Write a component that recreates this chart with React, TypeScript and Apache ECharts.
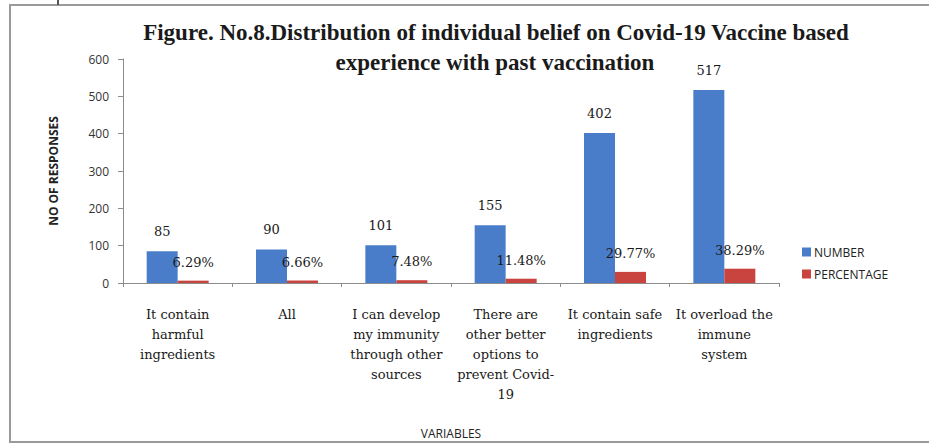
import React, { useEffect, useRef } from "react";
import * as echarts from "echarts";

const categories = [
  "It contain\nharmful\ningredients",
  "All",
  "I can develop\nmy immunity\nthrough other\nsources",
  "There are\nother better\noptions to\nprevent Covid-\n19",
  "It contain safe\ningredients",
  "It overload the\nimmune\nsystem",
];
const numberValues = [85, 90, 101, 155, 402, 517];
const percentageValues = [6.29, 6.66, 7.48, 11.48, 29.77, 38.29];
const yTicks = { min: 0, max: 600, interval: 100 };

const titleLines = [
  "Figure. No.8.Distribution of individual belief on Covid-19 Vaccine based",
  "experience with past vaccination",
];

const SERIF = "'Liberation Serif', 'DejaVu Serif', serif";
const WIDE_SERIF = "'DejaVu Serif', 'Liberation Serif', serif";
const SANS = "'Open Sans', 'Noto Sans', sans-serif";

export default function App() {
  const ref = useRef<HTMLDivElement>(null);

  useEffect(() => {
    if (!ref.current) return;
    const chart = echarts.init(ref.current, null, { renderer: "svg" });
    chart.setOption({
      animation: false,
      backgroundColor: "#ffffff",
      graphic: [
        {
          type: "rect",
          shape: { x: 10, y: 5, width: 1000, height: 437 },
          style: { fill: "none", stroke: "#9a9a9a", lineWidth: 2 },
          silent: true,
        },
        {
          type: "line",
          shape: { x1: 58, y1: 0, x2: 58, y2: 5 },
          style: { stroke: "#555", lineWidth: 2 },
          silent: true,
        },
        {
          type: "text",
          style: {
            text: titleLines[0],
            x: 496,
            y: 32,
            align: "center",
            verticalAlign: "middle",
            font: `bold 23px ${SERIF}`,
            fill: "#1a1a1a",
          },
          silent: true,
        },
        {
          type: "text",
          style: {
            text: titleLines[1],
            x: 495,
            y: 62,
            align: "center",
            verticalAlign: "middle",
            font: `bold 23px ${SERIF}`,
            fill: "#1a1a1a",
          },
          silent: true,
        },
      ],
      legend: {
        orient: "vertical",
        left: 797,
        top: 241,
        itemWidth: 9,
        itemHeight: 9,
        itemGap: 10,
        icon: "rect",
        textStyle: { fontFamily: SANS, fontSize: 12, color: "#222", padding: [0, 0, 0, -2] },
        data: ["NUMBER", "PERCENTAGE"],
      },
      grid: { left: 123, right: 150, top: 59, bottom: 155, containLabel: false },
      xAxis: {
        type: "category",
        data: categories,
        name: "VARIABLES",
        nameLocation: "middle",
        nameGap: 144,
        nameTextStyle: { fontFamily: SANS, fontSize: 12, color: "#222" },
        axisLine: { lineStyle: { color: "#8c8c8c", width: 1 } },
        axisTick: { show: true, length: 4, alignWithLabel: false, lineStyle: { color: "#8c8c8c" } },
        axisLabel: {
          interval: 0,
          margin: 21,
          fontFamily: WIDE_SERIF,
          fontSize: 13,
          lineHeight: 20,
          color: "#1a1a1a",
        },
      },
      yAxis: {
        type: "value",
        min: yTicks.min,
        max: yTicks.max,
        interval: yTicks.interval,
        name: "NO OF RESPONSES",
        nameLocation: "middle",
        nameGap: 64,
        nameRotate: 90,
        nameTextStyle: { fontFamily: SANS, fontSize: 12, fontWeight: "bold", color: "#222" },
        axisLine: { show: true, lineStyle: { color: "#8c8c8c", width: 1 } },
        axisTick: { show: true, length: 5, lineStyle: { color: "#8c8c8c" } },
        axisLabel: { margin: 14, fontFamily: SANS, fontSize: 12, color: "#333" },
        splitLine: { show: false },
      },
      series: [
        {
          name: "NUMBER",
          type: "bar",
          data: numberValues,
          barWidth: 31,
          barGap: "0%",
          itemStyle: { color: "#4a7dc9" },
          label: {
            show: true,
            position: "top",
            distance: 13,
            fontFamily: WIDE_SERIF,
            fontSize: 13,
            color: "#1a1a1a",
          },
        },
        {
          name: "PERCENTAGE",
          type: "bar",
          data: percentageValues,
          barWidth: 31,
          itemStyle: { color: "#c9433f" },
          label: {
            show: true,
            position: "top",
            distance: 12,
            fontFamily: WIDE_SERIF,
            fontSize: 13,
            color: "#1a1a1a",
            formatter: (p: any) => `${p.value.toFixed(2)}%`,
          },
        },
      ],
    });
    return () => chart.dispose();
  }, []);

  return (
    <div
      ref={ref}
      style={{ position: "fixed", left: 0, top: 0, width: 929, height: 444 }}
    />
  );
}
